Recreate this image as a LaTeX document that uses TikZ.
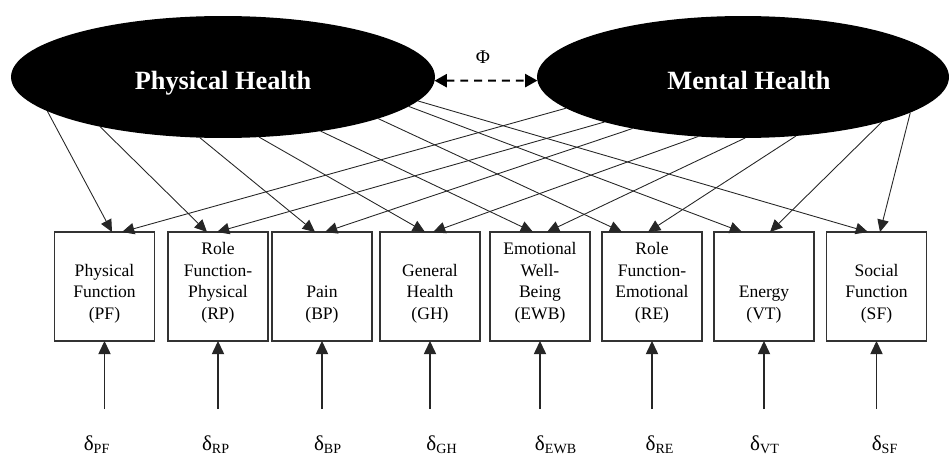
\documentclass[tikz,border=0pt]{standalone}
\usepackage{fontspec}
\setmainfont{Liberation Serif}
\usetikzlibrary{arrows.meta,shapes.geometric}

\tikzset{
  latent/.style={ellipse,fill=black,text=white,inner sep=0pt,outer sep=0pt,
    minimum height=2.44cm,text height=14pt,text depth=0pt,font=\fontsize{15}{18}\selectfont\bfseries},
  indicator/.style={draw=black!80,line width=0.6pt,minimum width=2cm,minimum height=2.18cm,
    inner sep=0pt,outer sep=0pt,font=\fontsize{10}{12.2}\selectfont},
  load/.style={-{Triangle[length=7pt,width=6.5pt]},line width=0.5pt,draw=black!85},
  errlabel/.style={inner sep=0pt,font=\fontsize{12}{14}\selectfont},
}
\newcommand{\boxtext}[1]{\parbox[c][1.38cm][b]{1.9cm}{\centering #1}}

\begin{document}
\begin{tikzpicture}[x=0.02cm,y=-0.02cm]
  \useasboundingbox (0,0) rectangle (950,456);

  %潜在変数
  \node[latent,minimum width=8.48cm] (ph) at (223,77) {Physical Health};
  \node[latent,minimum width=8.24cm] (mh) at (743,77) {\hspace*{0.24cm}Mental Health};

  %相関
  \draw[{Triangle[length=7pt,width=7.5pt]}-{Triangle[length=7pt,width=7.5pt]},
    line width=1.1pt,dash pattern=on 4.5pt off 3.4pt] (ph.-1) -- (mh.181);
  \node (phi) at (483,57) {\fontsize{11}{13}\selectfont Φ};

  %観測変数
  \node[indicator] (pf)  at (104.5,286.5) {\boxtext{Physical\\Function\\(PF)}};
  \node[indicator] (rp)  at (218,286.5)   {\boxtext{Role\\Function-\\Physical\\(RP)}};
  \node[indicator] (bp)  at (322,286.5)   {\boxtext{Pain\\(BP)}};
  \node[indicator] (gh)  at (430,286.5)   {\boxtext{General\\Health\\(GH)}};
  \node[indicator] (ewb) at (540,286.5)   {\boxtext{Emotional\\Well-\\Being\\(EWB)}};
  \node[indicator] (re)  at (652,286.5)   {\boxtext{Role\\Function-\\Emotional\\(RE)}};
  \node[indicator] (vt)  at (764,286.5)   {\boxtext{Energy\\(VT)}};
  \node[indicator] (sf)  at (876.5,286.5) {\boxtext{Social\\Function\\(SF)}};

  %因子負荷
  \foreach \b/\pa/\ps/\ma/\ms in {pf/191/0.15/190/0.35, rp/202/-0.22/198/-0.02,
      bp/249/-0.14/205/0.06, gh/301/-0.10/233/0.06, ewb/331/-0.14/272/0.14,
      re/345/-0.60/312/-0.08, vt/351/-0.44/342/0.12, sf/353/-0.17/348/0.07} {
    \draw[load] (ph.\pa) -- ([xshift=\ps cm]\b.north);
    \draw[load] (mh.\ma) -- ([xshift=\ms cm]\b.north);
  }

  %誤差
  \node[errlabel] (dpf)  at (97,445)  {δ\textsubscript{PF}};
  \node[errlabel] (drp)  at (216,445) {δ\textsubscript{RP}};
  \node[errlabel] (dbp)  at (328,445) {δ\textsubscript{BP}};
  \node[errlabel] (dgh)  at (442,445) {δ\textsubscript{GH}};
  \node[errlabel] (dewb) at (556,445) {δ\textsubscript{EWB}};
  \node[errlabel] (dre)  at (660,445) {δ\textsubscript{RE}};
  \node[errlabel] (dvt)  at (765,445) {δ\textsubscript{VT}};
  \node[errlabel] (dsf)  at (885,445) {δ\textsubscript{SF}};
  \foreach \b in {pf,rp,bp,gh,ewb,re,vt,sf} {
    \draw[load,line width=0.6pt,-{Triangle[length=7.5pt,width=7pt]}]
      (\b.south |- 0,409) -- (\b.south);
  }
\end{tikzpicture}
\end{document}
